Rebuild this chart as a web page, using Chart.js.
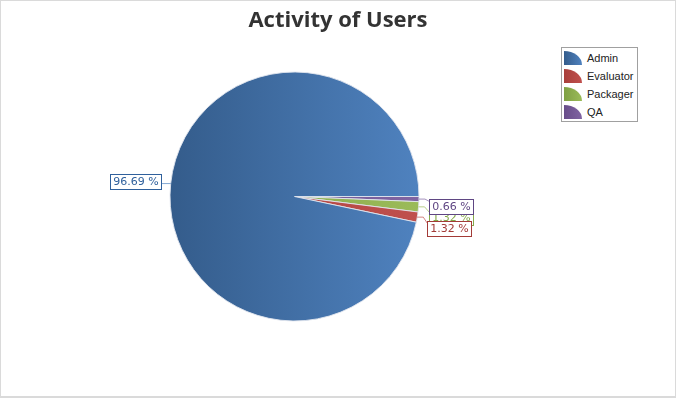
<!DOCTYPE html>
<html><head><meta charset="utf-8">
<script src="https://cdn.jsdelivr.net/npm/chart.js@4"></script>
<style>
html,body{margin:0;padding:0;background:#fff;}
#wrap{position:relative;width:676px;height:398px;overflow:hidden;}
#c{position:absolute;left:0;top:0;}
#frame{position:absolute;left:0;top:0;width:676px;height:398px;box-sizing:border-box;border:1px solid #dadada;border-bottom:2px solid #dadada;pointer-events:none;}
#title{position:absolute;left:0;top:3px;width:676px;text-align:center;font:bold 22px "Open Sans",sans-serif;color:#333;line-height:30px;}
#legend{position:absolute;left:561px;top:47px;width:77px;height:75px;box-sizing:border-box;border:1px solid #a0a0a0;background:#fff;padding:1px 0 0 2px;}
.li{height:18px;display:flex;align-items:center;font:11px "Liberation Sans",Arial,sans-serif;color:#222;}
.ic{width:18px;height:14px;border-top-right-radius:100% 100%;margin-right:5px;}
</style></head>
<body>
<div id="wrap">
<canvas id="c" width="676" height="398"></canvas>
<div id="title">Activity of Users</div>
<div id="legend"></div>
<div id="frame"></div>
</div>
<script>
const categories = ['Admin', 'Evaluator', 'Packager', 'QA'];
const counts = [146, 2, 2, 1];
const colorsDark = ['#345c8b', '#a83f3b', '#7fa043', '#684d89'];
const colorsLight = ['#4f82bf', '#c0504d', '#9bbb59', '#8064a2'];
const labelColors = ['#2f609c', '#a33b37', '#86a94b', '#5f4683'];
const labelDrawOrder = ['Admin', 'Packager', 'Evaluator', 'QA'];

const total = counts.reduce((a, b) => a + b, 0);
const pctText = v => (v / total * 100).toFixed(2) + ' %';

// slices run counter-clockwise from 3 o'clock in the original, so feed reversed
const order = categories.map((_, i) => i).reverse();
const chartLabels = order.map(i => categories[i]);
const chartData = order.map(i => counts[i]);

// legend
const leg = document.getElementById('legend');
categories.forEach((c, i) => {
  const d = document.createElement('div'); d.className = 'li';
  const ic = document.createElement('span'); ic.className = 'ic';
  ic.style.background = `linear-gradient(to right, ${colorsDark[i]}, ${colorsLight[i]})`;
  d.appendChild(ic); d.appendChild(document.createTextNode(c));
  leg.appendChild(d);
});

function bg(ctx) {
  const ci = order[ctx.dataIndex];
  const chart = ctx.chart, a = chart.chartArea;
  if (!a) return colorsLight[ci];
  const g = chart.ctx.createLinearGradient(a.left, 0, a.right, 0);
  g.addColorStop(0, colorsDark[ci]);
  g.addColorStop(1, colorsLight[ci]);
  return g;
}

const labelPlugin = {
  id: 'pctLabels',
  afterDatasetsDraw(chart) {
    const meta = chart.getDatasetMeta(0);
    const c = chart.ctx;
    c.save();
    c.font = '11px "DejaVu Sans", sans-serif';
    c.textBaseline = 'middle';
    const bh = 15, gap = 11;
    const items = categories.map((name, ci) => {
      const di = order.indexOf(ci);
      const arc = meta.data[di];
      const p = arc.getProps(['x', 'y', 'startAngle', 'endAngle', 'outerRadius'], true);
      const mid = (p.startAngle + p.endAngle) / 2;
      const ax = p.x + Math.cos(mid) * p.outerRadius;
      const ay = p.y + Math.sin(mid) * p.outerRadius;
      const txt = pctText(counts[ci]);
      const bw = Math.round(c.measureText(txt).width + 6);
      return { name, ci, ax, ay, txt, bw, right: Math.cos(mid) >= 0 };
    });
    const rightItems = items.filter(it => it.right).sort((a, b) => a.ay - b.ay);
    let prev = -Infinity;
    rightItems.forEach(it => {
      const top = Math.max(it.ay, prev + gap);
      it.by = Math.round(top) + 0.5;
      it.bx = Math.round(it.ax + 10) + 0.5;
      it.lx = it.bx;
      prev = top;
    });
    items.filter(it => !it.right).forEach(it => {
      it.bx = Math.round(it.ax - 10 - it.bw) + 0.5;
      it.by = Math.round(it.ay - 2 - bh / 2) + 0.5;
      it.lx = it.bx + it.bw;
    });
    labelDrawOrder.forEach(name => {
      const it = items.find(x => x.name === name);
      const ci = it.ci;
      c.strokeStyle = colorsLight[ci];
      c.globalAlpha = 0.7;
      c.lineWidth = 1;
      c.beginPath();
      c.moveTo(it.ax, it.ay);
      const ly = Math.min(Math.max(it.ay, it.by + 2), it.by + bh - 2);
      if (it.right) { c.lineTo(it.ax + 6, it.ay); }
      c.lineTo(it.lx, ly);
      c.stroke();
      c.globalAlpha = 1;
      c.fillStyle = '#fff';
      c.fillRect(it.bx, it.by, it.bw, bh);
      c.strokeStyle = labelColors[ci];
      c.strokeRect(it.bx, it.by, it.bw, bh);
      c.fillStyle = labelColors[ci];
      c.textAlign = 'center';
      c.fillText(it.txt, it.bx + it.bw / 2, it.by + bh / 2 + 0.5);
    });
    c.restore();
  }
};

new Chart(document.getElementById('c'), {
  type: 'pie',
  data: {
    labels: chartLabels,
    datasets: [{
      data: chartData,
      backgroundColor: bg,
      borderColor: 'rgba(225,230,238,0.9)',
      borderWidth: 1
    }]
  },
  options: {
    responsive: false,
    animation: false,
    rotation: 90,
    layout: { padding: { left: 169.5, right: 256.5, top: 71.5, bottom: 76.5 } },
    plugins: { legend: { display: false }, tooltip: { enabled: false }, title: { display: false } }
  },
  plugins: [labelPlugin]
});
</script>
</body></html>
